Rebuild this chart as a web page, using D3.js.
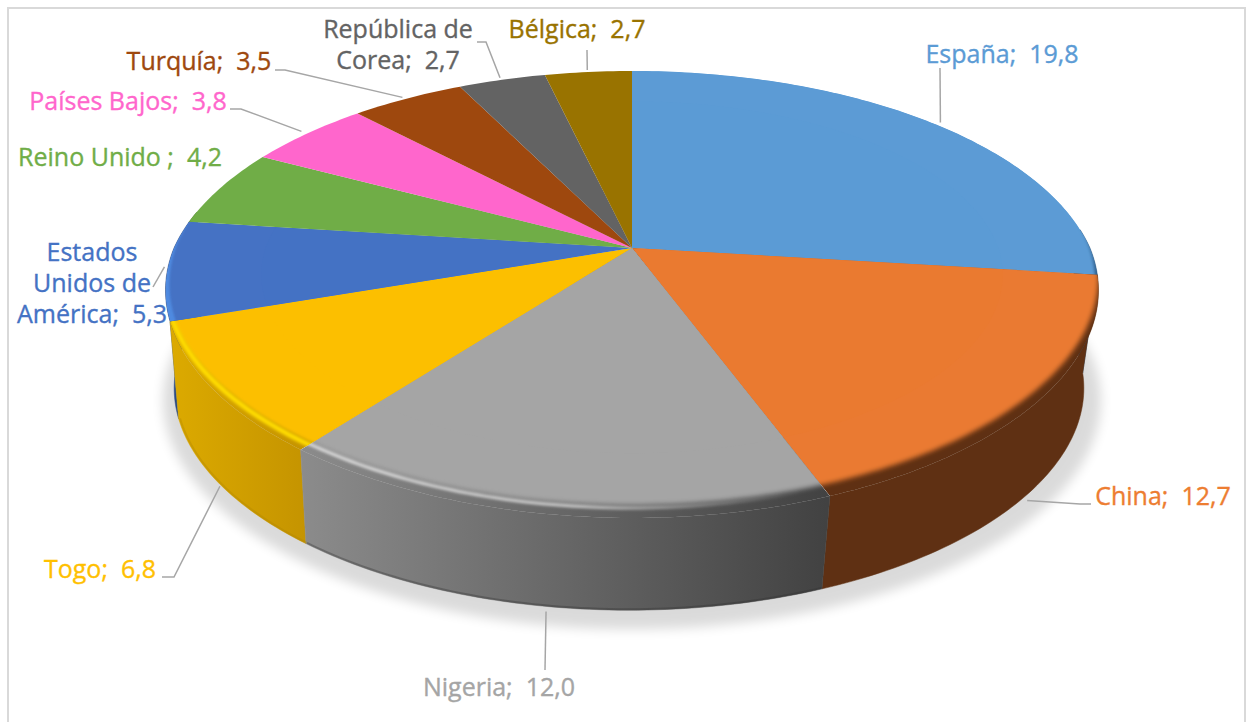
<!DOCTYPE html>
<html>
<head>
<meta charset="utf-8">
<script src="https://cdn.jsdelivr.net/npm/d3@7"></script>
<style>
  html, body { margin: 0; padding: 0; background: #fff; overflow: hidden; }
  text { font-family: "Open Sans", sans-serif; font-size: 25px; white-space: pre; stroke-width: 0.35px; }
</style>
</head>
<body>
<div id="chart-area"></div>
<script>
//////////////////////////////////////////////
// Data //////////////////////////////////////
//////////////////////////////////////////////
var countries = ["España", "China", "Nigeria", "Togo", "Estados Unidos de América",
    "Reino Unido", "Países Bajos", "Turquía", "República de Corea", "Bélgica"];
var values = [19.8, 12.7, 12.0, 6.8, 5.3, 4.2, 3.8, 3.5, 2.7, 2.7];
var valueLabels = ["19,8", "12,7", "12,0", "6,8", "5,3", "4,2", "3,8", "3,5", "2,7", "2,7"];

// how each label breaks on lines, last line gets the value
var labelLines = [["España"], ["China"], ["Nigeria"], ["Togo"], ["Estados", "Unidos de", "América"],
    ["Reino Unido "], ["Países Bajos"], ["Turquía"], ["República de", "Corea"], ["Bélgica"]];

//////////////////////////////////////////////
// Chart Config //////////////////////////////
//////////////////////////////////////////////
var width = 1248, height = 722;

var faceColors = ["#5b9bd5", "#ea7a30", "#a5a5a5", "#fcbf00", "#4472c4",
    "#70ad47", "#ff66cc", "#9e480e", "#636363", "#997300"];
var wallColors = ["#2c5a85", "#5f3013", "url(#wallNigeria)", "url(#wallTogo)", "#2a4a85",
    "#4a7a2e", "#b04890", "#6e3209", "#404040", "#6b5000"];
var labelColors = ["#5b9bd5", "#ed7d31", "#a5a5a5", "#ffc000", "#4472c4",
    "#70ad47", "#ff66cc", "#9e480e", "#636363", "#997300"];

// perspective of the disc, fitted on the picture
var cx = 632, A = 213.8, B = 458, k = 0.208, kFront = 0.19;
var topPlane = {s: 1, cy: 248, dx: 0};
var bottomPlane = {s: 0.975, cy: 347, dx: -3};
var shadowPlane = {s: 1.005, cy: 358, dx: 0};

// text anchors: [x, first baseline, anchor]
var labelPos = [
    [1002, 63, "middle"], [1163, 505, "middle"], [499, 696, "middle"], [100, 578, "middle"],
    [92, 261, "middle"], [120, 166, "middle"], [128, 110, "middle"], [199, 70, "middle"],
    [398, 38, "middle"], [577, 38, "middle"]
];
var lineStep = 31;

// elbows of the leader lines, the first point comes from the slice itself
var leaderElbows = [
    [[940, 68]], [[1080, 504], [1091, 504]], [[545, 670]], [[174, 577], [162, 577]],
    [[153, 287]], null, [[241, 109], [230, 109]], [[285, 70], [275, 70]],
    [[486, 42], [477, 42]], [[587, 50]]
];
// small corrections of the leader start
var leaderNudge = [[7, -1], [0, 6], [-1, 5], [0, 2], [-3, -3], [0, 0], [-6, -2], [-5, -1], [-2, -2], [-1, -2]];
// leader starts on the lower rim for the slices in front
var leaderPlane = [topPlane, bottomPlane, bottomPlane, bottomPlane, topPlane,
    topPlane, topPlane, topPlane, topPlane, topPlane];

// bevel of the slices: shift of the flat face, blur, highlight
var bevels = {
    0: {dx: -3, dy: -5, blur: 1.5, rim: "url(#rimSpain)"},
    1: {dx: 0, dy: -13, blur: 2.6},
    2: {dx: 0, dy: -13, blur: 2.6, light: "url(#lightNigeria)", lightW: 3, lightDy: -10},
    3: {dx: 0, dy: -13, blur: 1.8, light: "#ffdc00", lightW: 5, lightDy: -9},
    4: {dx: 4, dy: -6, blur: 1.2, rim: "#4f8ae0"}
};

var rad = Math.PI / 180;

function project(a, r, plane) {
    var u = r * Math.sin(a), v = r * Math.cos(a);
    var kx = v > 0 ? k : kFront;
    return [cx + plane.dx + plane.s * B * u / (1 + kx * v), plane.cy - plane.s * A * v / (1 + k * v)];
}

function arcPoints(a0, a1, r, plane) {
    var n = Math.max(2, Math.ceil((a1 - a0) / rad));
    return d3.range(n + 1).map(function(i) {
        return project(a0 + (a1 - a0) * i / n, r, plane);
    });
}

function wedgePoints(a0, a1, r, plane) {
    return [[cx + plane.dx, plane.cy]].concat(arcPoints(a0, a1, r, plane));
}

var line = d3.line();
function closed(pts) { return line(pts) + "Z"; }

var arcs = d3.pie().sort(null).value(function(d) { return d; })(values);

var svg = d3.select("#chart-area")
    .append("svg")
        .attr("width", width)
        .attr("height", height)
        .style("display", "block");

var defs = svg.append("defs");

function addGradient(id, stops, x1, x2, y1, y2) {
    var g = defs.append("linearGradient")
        .attr("id", id)
        .attr("gradientUnits", "userSpaceOnUse")
        .attr("x1", x1).attr("x2", x2).attr("y1", y1 || 0).attr("y2", y2 || 0);
    stops.forEach(function(s) {
        g.append("stop").attr("offset", s[0]).attr("stop-color", s[1]).attr("stop-opacity", s[2] === undefined ? 1 : s[2]);
    });
}
addGradient("wallNigeria", [[0, "#8c8c8c"], [1, "#424242"]], 298, 826);
addGradient("wallTogo", [[0, "#dcaa00"], [1, "#c59400"]], 170, 305);
addGradient("lightNigeria", [[0, "#e4e4e4"], [0.55, "#cfcfcf"], [1, "#a5a5a5", 0]], 298, 800);
addGradient("rimSpain", [[0, "#5b9bd5"], [1, "#2c5a85"]], 0, 0, 225, 275);

[1.2, 1.5, 1.8, 2.6, 6].forEach(function(b) {
    defs.append("filter")
        .attr("id", "blur" + String(b).replace(".", "_"))
        .attr("x", "-20%").attr("y", "-20%").attr("width", "140%").attr("height", "140%")
        .append("feGaussianBlur").attr("stdDeviation", b);
});
function blurRef(b) { return "url(#blur" + String(b).replace(".", "_") + ")"; }

//////////////////////////////////////////////
// Drawing ///////////////////////////////////
//////////////////////////////////////////////
// frame, it runs off the bottom of the picture
svg.append("rect")
    .attr("x", 8).attr("y", 8)
    .attr("width", 1237).attr("height", 760)
    .attr("fill", "#fff")
    .attr("stroke", "#d9d9d9")
    .attr("stroke-width", 2);

// soft shadow under the disc
svg.append("path")
    .attr("d", closed(arcPoints(0, 2 * Math.PI, 1, shadowPlane)))
    .attr("fill", "#000")
    .attr("opacity", 0.14)
    .attr("filter", blurRef(6));

// side walls, far ones first
var wallFrom = 85 * rad, wallTo = 280 * rad;
var walls = arcs.map(function(d, i) {
    return {i: i, a0: Math.max(d.startAngle, wallFrom), a1: Math.min(d.endAngle, wallTo)};
}).filter(function(d) { return d.a1 > d.a0; });
walls.sort(function(a, b) {
    return Math.abs((b.a0 + b.a1) / 2 - Math.PI) - Math.abs((a.a0 + a.a1) / 2 - Math.PI);
});

svg.append("g").selectAll("path")
    .data(walls)
    .join("path")
    .attr("d", function(d) {
        return closed(arcPoints(d.a0, d.a1, 1, topPlane)
            .concat(arcPoints(d.a0, d.a1, 1, bottomPlane).reverse()));
    })
    .attr("fill", function(d) { return wallColors[d.i]; })
    .attr("stroke", function(d) { return wallColors[d.i]; })
    .attr("stroke-width", 0.5);

// darker lower lip on the lit walls
[2, 3].forEach(function(i) {
    svg.append("path")
        .attr("d", line(arcPoints(arcs[i].startAngle, arcs[i].endAngle, 0.997, bottomPlane)))
        .attr("fill", "none")
        .attr("stroke", i === 2 ? "#303030" : "#b08400")
        .attr("stroke-opacity", 0.35)
        .attr("stroke-width", 2);
});

// top of each slice
arcs.forEach(function(d, i) {
    var wedge = closed(wedgePoints(d.startAngle, d.endAngle, 1, topPlane));
    var bevel = bevels[i];
    var g = svg.append("g");

    if (!bevel) {
        g.append("path").attr("d", wedge).attr("fill", faceColors[i]);
        return;
    }

    defs.append("clipPath").attr("id", "slice" + i).append("path").attr("d", wedge);
    g.attr("clip-path", "url(#slice" + i + ")");

    g.append("path").attr("d", wedge).attr("fill", bevel.rim || wallColors[i]);

    // flat face pushed back, goes past the slice sides so only the rim gets soft
    var pad = 8 * rad;
    g.append("path")
        .attr("d", closed(wedgePoints(d.startAngle - pad, d.endAngle + pad, 1, topPlane)))
        .attr("transform", "translate(" + bevel.dx + "," + bevel.dy + ")")
        .attr("fill", faceColors[i])
        .attr("filter", blurRef(bevel.blur));

    g.append("path")
        .attr("d", closed(wedgePoints(d.startAngle, d.endAngle, 0.8, topPlane)))
        .attr("fill", faceColors[i]);

    if (bevel.light) {
        g.append("path")
            .attr("d", line(arcPoints(d.startAngle - pad, d.endAngle + pad, 1, topPlane)))
            .attr("transform", "translate(0," + bevel.lightDy + ")")
            .attr("fill", "none")
            .attr("stroke", bevel.light)
            .attr("stroke-width", bevel.lightW)
            .attr("filter", blurRef(1.5));
    }
});

// leader lines
svg.append("g").selectAll("path")
    .data(arcs.filter(function(d, i) { return leaderElbows[i]; }))
    .join("path")
    .attr("d", function(d) {
        var mid = (d.startAngle + d.endAngle) / 2;
        var start = project(mid, 1, leaderPlane[d.index]);
        var nudge = leaderNudge[d.index];
        return line([[start[0] + nudge[0], start[1] + nudge[1]]].concat(leaderElbows[d.index]));
    })
    .attr("fill", "none")
    .attr("stroke", "#a6a6a6")
    .attr("stroke-width", 1.5);

// labels
var labels = svg.append("g").selectAll("text")
    .data(labelLines)
    .join("text")
    .attr("text-anchor", function(d, i) { return labelPos[i][2]; })
    .attr("fill", function(d, i) { return labelColors[i]; })
    .attr("stroke", function(d, i) { return labelColors[i]; });

labels.each(function(lines, i) {
    var t = d3.select(this);
    lines.forEach(function(s, j) {
        var last = j === lines.length - 1;
        t.append("tspan")
            .attr("x", labelPos[i][0])
            .attr("y", labelPos[i][1] + j * lineStep)
            .text(last ? s + ";  " + valueLabels[i] : s);
    });
});
</script>
</body>
</html>
